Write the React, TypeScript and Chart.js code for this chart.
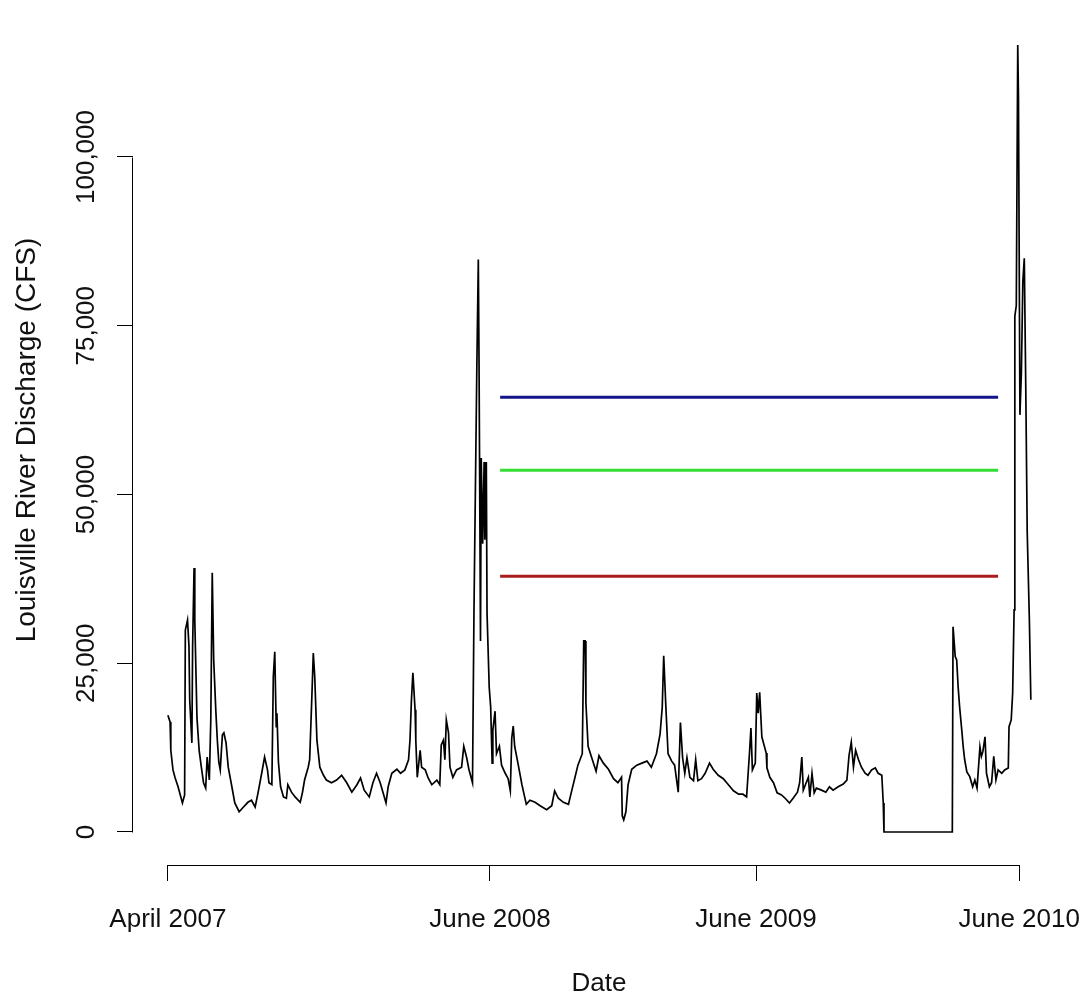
import React, { useEffect, useRef } from 'react';
import { Chart, registerables } from 'chart.js';

Chart.register(...registerables);

// Days since the start of the record (April 2007)
const days: number[] = [
  0, 3, 4, 7, 10, 14, 20, 23, 24, 27,
  29, 30, 33, 34, 36, 37, 40, 43, 46, 49,
  52, 54, 57, 59, 61, 63, 66, 68, 70, 72,
  75, 77, 80, 83, 88, 92, 98, 104, 110, 115,
  120, 124, 129, 133, 137, 139, 143, 145, 147, 149,
  150, 152, 155, 159, 163, 165, 170, 175, 182, 185,
  188, 193, 195, 198, 200, 202, 205, 209, 214, 218,
  225, 232, 239, 246, 253, 260, 265, 270, 277, 282,
  287, 292, 296, 300, 303, 308, 315, 320, 326, 331,
  333, 335, 337, 340, 341, 343, 347, 349, 354, 358,
  363, 370, 374, 376, 379, 381, 383, 386, 388, 392,
  397, 404, 407, 411, 414, 419,
  421, 425, 427, 428, 430, 431, 433, 435, 436, 438,
  439, 442, 444, 446, 447, 450, 452, 456, 459, 464,
  468, 471, 473, 475, 477, 482, 487, 493, 498, 505,
  512, 521, 528, 532, 537, 544, 551, 555, 560, 564,
  570, 572, 574, 575, 578, 583, 589, 593, 599, 606,
  613, 619, 624, 625, 627, 630, 633, 638, 645, 652,
  659, 665, 672, 677, 680, 682, 685, 688, 693, 697,
  702, 705, 708, 711, 714, 718, 723, 726, 729, 734,
  739, 745, 750, 757, 764, 771, 778, 785, 791,
  796, 800, 802, 804, 808, 810, 812, 814, 817, 820,
  823, 824, 828, 833, 838, 844, 849, 855, 860, 866,
  869, 872, 874, 878, 881, 883, 886, 889, 892, 899,
  905, 910, 915, 922, 929, 934, 937, 940, 943, 946,
  950, 954, 959, 963, 968, 973, 977, 982, 984, 985,
  1079, 1080, 1083, 1085, 1087, 1089, 1092, 1094, 1096, 1099,
  1103, 1107, 1110, 1113, 1117, 1119, 1121, 1124, 1126, 1130,
  1133, 1136, 1139, 1142, 1147, 1151, 1156, 1157, 1160, 1162,
  1164, 1165, 1167, 1169, 1170, 1172, 1174, 1176, 1178, 1180,
  1182, 1185, 1187,
];

// Louisville river discharge (CFS)
const discharge: number[] = [
  17300, 16300, 12100, 9200, 8000, 6700, 4300, 5500, 29900, 31400,
  27500, 19600, 13200, 27500, 39100, 31400, 16900, 12100, 9600, 7300,
  6500, 11100, 7700, 16600, 38400, 25500, 17800, 13600, 10400, 9200,
  14400, 14700, 13200, 9600, 6700, 4300, 3000, 3700, 4400, 4700,
  3700, 5800, 8700, 11100, 9200, 7300, 7000, 23000, 26700, 15600,
  17600, 10400, 6700, 5200, 5000, 7000, 5900, 5200, 4400, 5800,
  7700, 9600, 10700, 20000, 26500, 23000, 13600, 9600, 8400, 7700,
  7300, 7700, 8400, 7300, 5900, 7000, 8000, 6200, 5200, 7300,
  8700, 7300, 5800, 4300, 6700, 8700, 9300, 8700, 9200, 10700,
  13600, 19600, 23600, 18100, 13600, 8100, 12100, 9600, 9200, 8000,
  7000, 7700, 7000, 12900, 13600, 10700, 16600, 14700, 9600, 8100,
  9200, 9600, 12700, 11000, 9300, 7300,
  32400, 69300, 84800, 69300, 28300, 55400, 42700, 54800, 43300, 54800,
  32400, 21400, 18500, 10200, 15100, 17900, 11600, 12700, 9900, 8700,
  7900, 6100, 13900, 15700, 12700, 9900, 7000, 4100, 4700, 4400,
  3900, 3300, 3900, 6100, 5000, 4400, 4100, 5900, 8100, 9900,
  11600, 28300, 28300, 19100, 12700, 11000, 9000, 11300, 10200, 9300,
  7900, 7300, 8100, 2400, 1800, 3000, 7000, 9300, 9900, 10200,
  10500, 9600, 11600, 14500, 18500, 26100, 18500, 11600, 10500, 9900,
  5900, 16200, 11000, 8700, 11000, 8100, 7600, 10700, 7600, 7900,
  8700, 10200, 9300, 8400, 7900, 7000, 6100, 5600, 5600,
  5200, 11700, 15400, 9200, 10200, 20600, 17600, 20700, 14100, 12900,
  11700, 9500, 8100, 7300, 5800, 5500, 5000, 4300, 5000, 5900,
  7300, 11100, 6200, 7300, 8100, 5200, 8700, 5800, 6500, 6200,
  5900, 6700, 6200, 6700, 7100, 7700, 11400, 13300, 9600, 12100,
  10700, 9600, 8700, 8400, 9200, 9500, 8700, 8400, 4300, 0,
  0, 30400, 26000, 25500, 21500, 18600, 15100, 12600, 10700, 8900,
  8200, 6700, 7700, 6500, 12600, 11200, 11900, 14100, 8700, 6700,
  7300, 11200, 7700, 9200, 8700, 9200, 9500, 15600, 16600, 20600,
  32900, 76400, 78000, 116600, 108900, 61800, 68000, 81500, 85000, 66200,
  44600, 31400, 19600,
];

// Horizontal reference levels
const thresholdValues: number[] = [64400, 53600, 37900];
const thresholdColors: string[] = ['#14148a', '#33dd33', '#aa1c1c'];
const thresholdStart = 457;
const thresholdEnd = 1142;

// Axis ticks
const xTickDays: number[] = [0, 443, 809, 1171];
const xTickLabels: string[] = ['April 2007', 'June 2008', 'June 2009', 'June 2010'];
const yTickValues: number[] = [0, 25000, 50000, 75000, 100000];
const yTickLabels: string[] = ['0', '25,000', '50,000', '75,000', '100,000'];

const FONT = '"Liberation Sans", Arial, Helvetica, sans-serif';
const FONT_SIZE = 26;
const TEXT_COLOR = '#111';

export default function App() {
  const canvasRef = useRef<HTMLCanvasElement | null>(null);

  useEffect(() => {
    const canvas = canvasRef.current;
    if (!canvas) return;

    const n = Math.min(days.length, discharge.length);
    const points = [];
    for (let i = 0; i < n; i++) points.push({ x: days[i], y: discharge[i] });

    const levelSets = thresholdValues.map((v, i) => ({
      label: 'level ' + (i + 1),
      data: [
        { x: thresholdStart, y: v },
        { x: thresholdEnd, y: v },
      ],
      borderColor: thresholdColors[i],
      backgroundColor: thresholdColors[i],
      borderWidth: 3,
      pointRadius: 0,
      fill: false,
      tension: 0,
    }));

    const rAxes = {
      id: 'rAxes',
      afterDraw(chart: any) {
        const { ctx, chartArea } = chart;
        const xs = chart.scales.x;
        const ys = chart.scales.y;
        ctx.save();
        ctx.strokeStyle = '#000';
        ctx.lineWidth = 1;
        // y axis line (from first to last tick)
        const ax = Math.round(chartArea.left) - 0.5;
        ctx.beginPath();
        ctx.moveTo(ax, Math.round(ys.getPixelForValue(yTickValues[0])) + 0.5);
        ctx.lineTo(ax, Math.round(ys.getPixelForValue(yTickValues[yTickValues.length - 1])) + 0.5);
        ctx.stroke();
        // x axis line
        const ay = Math.round(chartArea.bottom) + 0.5;
        ctx.beginPath();
        ctx.moveTo(Math.round(xs.getPixelForValue(xTickDays[0])), ay);
        ctx.lineTo(Math.round(xs.getPixelForValue(xTickDays[xTickDays.length - 1])) + 1, ay);
        ctx.stroke();
        // y tick labels, rotated like R's default
        ctx.fillStyle = TEXT_COLOR;
        ctx.font = `${FONT_SIZE}px ${FONT}`;
        ctx.textAlign = 'center';
        ctx.textBaseline = 'middle';
        yTickValues.forEach((v, i) => {
          const py = ys.getPixelForValue(v);
          ctx.save();
          ctx.translate(87, py);
          ctx.rotate(-Math.PI / 2);
          ctx.fillText(yTickLabels[i], 0, 0);
          ctx.restore();
        });
        ctx.restore();
      },
    };

    const chart = new Chart(canvas, {
      type: 'line',
      data: {
        datasets: [
          {
            label: 'Discharge',
            data: points,
            borderColor: '#000',
            backgroundColor: '#000',
            borderWidth: 1.7,
            pointRadius: 0,
            fill: false,
            tension: 0,
          } as any,
          ...levelSets,
        ],
      },
      options: {
        responsive: false,
        animation: false,
        devicePixelRatio: 1,
        layout: { padding: { top: 15, right: 19, left: 0, bottom: 0 } },
        plugins: {
          legend: { display: false },
          tooltip: { enabled: false },
        },
        scales: {
          x: {
            type: 'linear',
            min: -48,
            max: 1234,
            afterBuildTicks: (s: any) => {
              s.ticks = xTickDays.map((v) => ({ value: v }));
            },
            afterFit: (s: any) => {
              s.height = 134;
              s.paddingLeft = 0;
              s.paddingRight = 0;
            },
            border: { display: false },
            grid: {
              display: true,
              drawOnChartArea: false,
              drawTicks: true,
              tickLength: 16,
              color: '#000',
              lineWidth: 1,
            },
            ticks: {
              autoSkip: false,
              maxRotation: 0,
              minRotation: 0,
              padding: 23,
              color: TEXT_COLOR,
              font: { family: FONT, size: FONT_SIZE },
              callback: (_v: any, i: number) => xTickLabels[i],
            },
            title: {
              display: true,
              text: 'Date',
              color: TEXT_COLOR,
              font: { family: FONT, size: FONT_SIZE },
              padding: { top: 0, bottom: 0 },
            },
          },
          y: {
            type: 'linear',
            min: -4889,
            max: 121037,
            afterBuildTicks: (s: any) => {
              s.ticks = yTickValues.map((v) => ({ value: v }));
            },
            afterFit: (s: any) => {
              s.width = 133;
              s.paddingTop = 0;
              s.paddingBottom = 0;
            },
            border: { display: false },
            grid: {
              display: true,
              drawOnChartArea: false,
              drawTicks: true,
              tickLength: 16,
              color: '#000',
              lineWidth: 1,
            },
            ticks: { display: false },
            title: {
              display: true,
              text: 'Louisville River Discharge (CFS)',
              color: TEXT_COLOR,
              font: { family: FONT, size: 28 },
              padding: { top: 10, bottom: 0 },
            },
          },
        },
      } as any,
      plugins: [rAxes],
    });

    return () => {
      chart.destroy();
    };
  }, []);

  return (
    <div style={{ position: 'fixed', left: 0, top: 0, width: 1084, height: 999, background: '#fff' }}>
      <canvas ref={canvasRef} width={1084} height={999} style={{ width: 1084, height: 999, display: 'block' }} />
    </div>
  );
}
